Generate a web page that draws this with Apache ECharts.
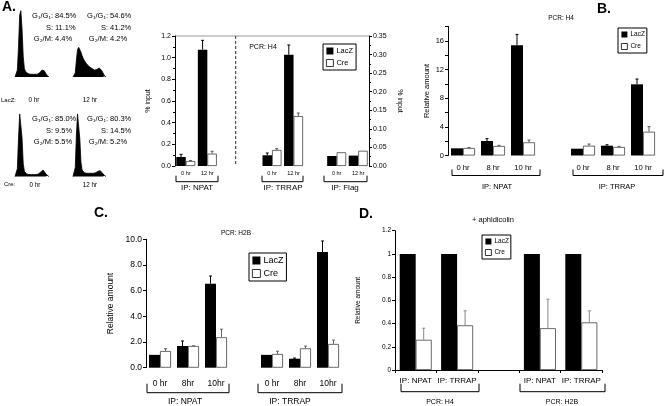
<!DOCTYPE html>
<html><head><meta charset="utf-8">
<script src="https://cdn.jsdelivr.net/npm/echarts@6/dist/echarts.min.js"></script>
<style>html,body{margin:0;padding:0;background:#fff}#c{width:664px;height:406px}</style>
</head><body><div id="c"></div>
<script>
// ---------- DATA ----------
// Panel A histograms (cell counts per DNA-content bin, estimated)
const histLacZ0 = [0,2,10,45,90,96,70,30,12,8,6,5,5,4,4,4,4,4,4,4,5,6,8,10,11,9,6,3,1,0];
const histLacZ12 = [0,1,6,25,40,43,41,36,31,27,24,21,19,17,15,14,13,12,11,10,10,11,12,13,12,10,7,4,1,0];
const histCre0 = [0,2,12,60,97,95,60,20,8,5,4,3,3,3,3,3,3,3,3,3,4,5,7,9,10,8,5,2,1,0];
const histCre12 = [0,2,14,65,97,94,58,22,10,7,6,5,5,5,5,5,5,5,5,5,6,7,8,9,9,7,5,2,1,0];
const histStatsLabels = ['G\u2081/G\u2081:', 'S:', 'G\u2082/M:'];
const statsLacZ0 = ['84.5%', '11.1%', '4.4%'];
const statsLacZ12 = ['54.6%', '41.2%', '4.2%'];
const statsCre0 = ['85.0%', '9.5%', '5.5%'];
const statsCre12 = ['80.3%', '14.5%', '5.2%'];

// Panel A ChIP (% input)
const aCats = ['0 hr','12 hr','','','0 hr','12 hr','','0 hr','12 hr'];
const aLacZ    = [0.083, 1.074, null, null, 0.099, 1.027, null, null, null];
const aLacZErr = [0.025, 0.086, null, null, 0.021, 0.090, null, null, null];
const aCre     = [0.046, 0.114, null, null, 0.148, 0.461, null, null, null];
const aCreErr  = [0.004, 0.022, null, null, 0.012, 0.028, null, null, null];
const aFlagLacZ = [null, null, null, null, null, null, null, 0.027, 0.028];
const aFlagCre  = [null, null, null, null, null, null, null, 0.037, 0.041];
const aGroups = ['IP: NPAT', 'IP: TRRAP', 'IP: Flag'];

// Panel B (PCR: H4, relative amount)
const bCats = ['0 hr','8 hr','10 hr','','0 hr','8 hr','10 hr'];
const bLacZ    = [1.0, 2.02, 15.4, null, 0.95, 1.37, 9.93];
const bLacZErr = [0.0, 0.33, 1.5, null, 0.0, 0.13, 0.74];
const bCre     = [1.05, 1.33, 1.84, null, 1.37, 1.19, 3.32];
const bCreErr  = [0.05, 0.09, 0.32, null, 0.23, 0.09, 0.70];
const bGroups = ['IP: NPAT', 'IP: TRRAP'];

// Panel C (PCR: H2B, relative amount)
const cCats = ['0 hr','8hr','10hr','','0 hr','8hr','10hr'];
const cLacZ    = [1.0, 1.69, 6.54, null, 1.0, 0.70, 9.01];
const cLacZErr = [0.0, 0.39, 0.60, null, 0.0, 0.05, 0.86];
const cCre     = [1.3, 1.69, 2.37, null, 1.07, 1.51, 1.85];
const cCreErr  = [0.18, 0.02, 0.63, null, 0.21, 0.18, 0.30];
const cGroups = ['IP: NPAT', 'IP: TRRAP'];

// Panel D (+ aphidicolin)
const dCats = ['IP: NPAT','IP: TRRAP','','IP: NPAT','IP: TRRAP'];
const dLacZ   = [1, 1, null, 1, 1];
const dCre    = [0.26, 0.385, null, 0.36, 0.41];
const dCreErr = [0.10, 0.125, null, 0.25, 0.10];
const dGroups = ['PCR: H4', 'PCR: H2B'];

// ---------- CHART ----------
const FF = "'Liberation Sans', Arial, Helvetica, sans-serif";
const chart = echarts.init(document.getElementById('c'), null, {renderer: 'canvas'});
const dash = a => a.map(v => v == null ? '-' : v);

function errSeries(vals, errs, xi, yi, sign, bw, color) {
  const data = [];
  vals.forEach((v, i) => { if (v != null && errs[i] != null && errs[i] > 0) data.push([i, v, v + errs[i]]); });
  return {
    type: 'custom', name: 'err', xAxisIndex: xi, yAxisIndex: yi, z: 5, silent: true, data,
    renderItem: (params, api) => {
      const b = api.coord([api.value(0), api.value(1)]);
      const t = api.coord([api.value(0), api.value(2)]);
      const x = b[0] + sign * bw / 2;
      return { type: 'group', children: [
        { type: 'line', shape: {x1: x, y1: b[1], x2: x, y2: t[1]}, style: {stroke: color, lineWidth: 1} },
        { type: 'line', shape: {x1: x - 1.5, y1: t[1], x2: x + 1.5, y2: t[1]}, style: {stroke: color, lineWidth: 1} }
      ]};
    }
  };
}
function barPair(lac, cre, xi, yi, bw) {
  return [
    { type: 'bar', name: 'LacZ', xAxisIndex: xi, yAxisIndex: yi, data: dash(lac), barWidth: bw, barGap: '0%',
      itemStyle: {color: '#000'}, silent: true },
    { type: 'bar', name: 'Cre', xAxisIndex: xi, yAxisIndex: yi, data: dash(cre), barWidth: bw, barGap: '0%',
      itemStyle: {color: '#fff', borderColor: '#444', borderWidth: 0.8}, silent: true }
  ];
}
function catAxis(grid, data, fs, margin, extra) {
  return Object.assign({
    type: 'category', gridIndex: grid, data, axisLine: {show: false}, axisTick: {show: false},
    axisLabel: {interval: 0, fontSize: fs, color: '#000', fontFamily: FF, margin}
  }, extra || {});
}
function valAxis(grid, min, max, interval, fs, fmt, name, nameGap, extra) {
  return Object.assign({
    type: 'value', gridIndex: grid, min, max, interval,
    axisLine: {show: true, lineStyle: {color: '#000', width: 1}},
    axisTick: {show: true, length: 3, lineStyle: {color: '#000'}},
    splitLine: {show: false},
    axisLabel: {fontSize: fs, color: '#000', fontFamily: FF, formatter: fmt, margin: 4},
    name, nameLocation: 'middle', nameGap,
    nameTextStyle: {fontSize: fs, color: '#000', fontFamily: FF}
  }, extra || {});
}
function histGrid(left, top, w, h) { return {left, top, width: w, height: h, containLabel: false}; }
function legendAt(left, top, fs, icon, gap, pad) {
  return {
    left, top, orient: 'vertical', itemWidth: icon, itemHeight: icon, itemGap: gap, padding: pad,
    borderColor: '#000', borderWidth: 1, selectedMode: false,
    textStyle: {fontSize: fs, color: '#000', fontFamily: FF, padding: [0, 0, 0, -2]},
    data: [
      {name: 'LacZ', icon: 'rect', itemStyle: {color: '#000', borderWidth: 0}},
      {name: 'Cre', icon: 'rect', itemStyle: {color: '#fff', borderColor: '#000', borderWidth: 0.8}}
    ]
  };
}
function txt(x, y, s, fs, align, extra) {
  return { type: 'text', x, y, silent: true,
    style: Object.assign({text: s, fontSize: fs, fontFamily: FF, fill: '#000', align: align || 'center', verticalAlign: 'middle'}, extra || {}) };
}
function bracket(x1, x2, y, h) {
  return { type: 'polyline', silent: true, shape: {points: [[x1, y - h], [x1, y], [x2, y], [x2, y - h]]},
    style: {stroke: '#000', lineWidth: 1, fill: null} };
}
function statText(xc, y0, values) {
  const out = [];
  values.forEach((v, i) => {
    out.push(txt(xc, y0 + i * 11.5, histStatsLabels[i], 7.5, 'right'));
    out.push(txt(xc + 2, y0 + i * 11.5, v, 7.5, 'left'));
  });
  return out;
}

const grids = [
  {left: 175, top: 36, width: 194, height: 130},      // 0 A
  {left: 448, top: 26.5, width: 210, height: 129},    // 1 B
  {left: 146, top: 239.3, width: 196, height: 128.4}, // 2 C
  {left: 395, top: 230.7, width: 207, height: 139.3}, // 3 D
  histGrid(15, 8, 34, 69), histGrid(73, 8, 33, 69),
  histGrid(15, 112, 34, 64.5), histGrid(73, 112, 33, 64.5)
];
const binCats = histLacZ0.map((_, i) => String(i));
const xAxes = [
  catAxis(0, aCats, 5.5, 4),
  catAxis(0, aCats, 5.5, 4, {show: false}),
  catAxis(1, bCats, 7.7, 8.5),
  catAxis(2, cCats, 8.5, 11),
  catAxis(3, dCats, 8, 6.5, {axisLine: {show: true, lineStyle: {color: '#000'}}, axisTick: {show: true, length: 3, lineStyle: {color: '#000'}}}),
];
for (let g = 4; g < 8; g++) xAxes.push({type: 'category', gridIndex: g, data: binCats, boundaryGap: false, show: false});
const yAxes = [
  valAxis(0, 0, 1.2, 0.2, 7, v => v.toFixed(1), '% input', 23, {minorTick: {show: true, splitNumber: 2, length: 2, lineStyle: {color: '#000'}}}),
  valAxis(0, 0, 0.35, 0.05, 7, v => v.toFixed(2), '% input', 27, {position: 'right', nameRotate: -90, minorTick: {show: true, splitNumber: 2, length: 2, lineStyle: {color: '#000'}}}),
  valAxis(1, 0, 18, 2, 7.5, v => (v % 4 === 0 ? String(v) : ''), 'Relative amount', 17),
  valAxis(2, 0, 10, 2, 8.5, v => v.toFixed(1), 'Relative amount', 31),
  valAxis(3, 0, 1.2, 0.2, 6.5, null, 'Relative amount', 33),
];
for (let g = 4; g < 8; g++) yAxes.push({type: 'value', gridIndex: g, min: 0, max: 100, show: false});

function histSeries(data, idx) {
  return { type: 'line', xAxisIndex: idx, yAxisIndex: idx, data, symbol: 'none', silent: true,
    lineStyle: {color: '#000', width: 0.8}, areaStyle: {color: '#000', opacity: 1} };
}

const series = [].concat(
  barPair(aLacZ, aCre, 0, 0, 9.5),
  barPair(aFlagLacZ, aFlagCre, 1, 1, 9.5),
  [errSeries(aLacZ, aLacZErr, 0, 0, -1, 9.5, '#000'), errSeries(aCre, aCreErr, 0, 0, 1, 9.5, '#555')],
  barPair(bLacZ, bCre, 2, 2, 12),
  [errSeries(bLacZ, bLacZErr, 2, 2, -1, 12, '#000'), errSeries(bCre, bCreErr, 2, 2, 1, 12, '#555')],
  barPair(cLacZ, cCre, 3, 3, 11),
  [errSeries(cLacZ, cLacZErr, 3, 3, -1, 11, '#000'), errSeries(cCre, cCreErr, 3, 3, 1, 11, '#666')],
  barPair(dLacZ, dCre, 4, 4, 16),
  [errSeries(dCre, dCreErr, 4, 4, 1, 16, '#888')],
  [histSeries(histLacZ0, 5), histSeries(histLacZ12, 6), histSeries(histCre0, 7), histSeries(histCre12, 8)]
);

const graphic = [].concat(
  // panel letters
  [txt(2, 7, 'A.', 14, 'left', {fontWeight: 'bold'}), txt(597, 9, 'B.', 14, 'left', {fontWeight: 'bold'}),
   txt(94, 213, 'C.', 14, 'left', {fontWeight: 'bold'}), txt(359, 214, 'D.', 14, 'left', {fontWeight: 'bold'})],
  // panel A histogram annotations
  statText(53, 16, statsLacZ0), statText(108, 16, statsLacZ12),
  statText(53, 119, statsCre0), statText(108, 119, statsCre12),
  [txt(1, 100, 'LacZ:', 6, 'left'), txt(34, 100, '0 hr', 6.3), txt(90, 100, '12 hr', 6.3),
   txt(4, 184, 'Cre:', 6, 'left'), txt(35, 185, '0 hr', 6.3), txt(90, 185, '12 hr', 6.3)],
  // panel A chart decorations
  [{type: 'line', silent: true, shape: {x1: 175, y1: 36, x2: 369, y2: 36}, style: {stroke: '#999', lineWidth: 1}},
   {type: 'line', silent: true, shape: {x1: 235.7, y1: 36, x2: 235.7, y2: 166}, style: {stroke: '#333', lineWidth: 1, lineDash: [3, 2]}},
   txt(263, 47, 'PCR: H4', 7),
   bracket(176, 218, 181.7, 6), bracket(262, 303, 181.7, 6), bracket(324, 367, 181.7, 6),
   txt(197, 188, aGroups[0], 8), txt(283, 188, aGroups[1], 8), txt(345, 188, aGroups[2], 8)],
  // panel B
  [txt(561, 18, 'PCR: H4', 6.5),
   bracket(452, 540, 175.5, 6), bracket(573, 663, 175.5, 6),
   txt(497, 187, bGroups[0], 7.5), txt(617, 187, bGroups[1], 7.5)],
  // panel C
  [txt(236, 233, 'PCR: H2B', 6.5),
   bracket(147, 229, 392.7, 9), bracket(258, 342, 392.7, 9),
   txt(185, 402, cGroups[0], 8.5), txt(290, 402, cGroups[1], 8.5)],
  // panel D
  [txt(493, 220, '+ aphidicolin', 7.5),
   bracket(401, 479, 391.7, 8), bracket(520, 605, 391.7, 8),
   txt(440, 402, dGroups[0], 7), txt(562, 402, dGroups[1], 7)]
);

chart.setOption({
  backgroundColor: '#fff',
  animation: false,
  grid: grids,
  xAxis: xAxes,
  yAxis: yAxes,
  legend: [
    legendAt(323, 44, 7.5, 7, 4, [3, 3, 3, 3]),
    legendAt(618, 28, 6.5, 6, 5, [3, 2, 3, 3]),
    legendAt(249, 253, 9, 8, 4, [3, 3, 3, 3]),
    legendAt(482, 235, 6.5, 6, 4, [3, 2, 3, 3])
  ],
  series,
  graphic
});
</script></body></html>
